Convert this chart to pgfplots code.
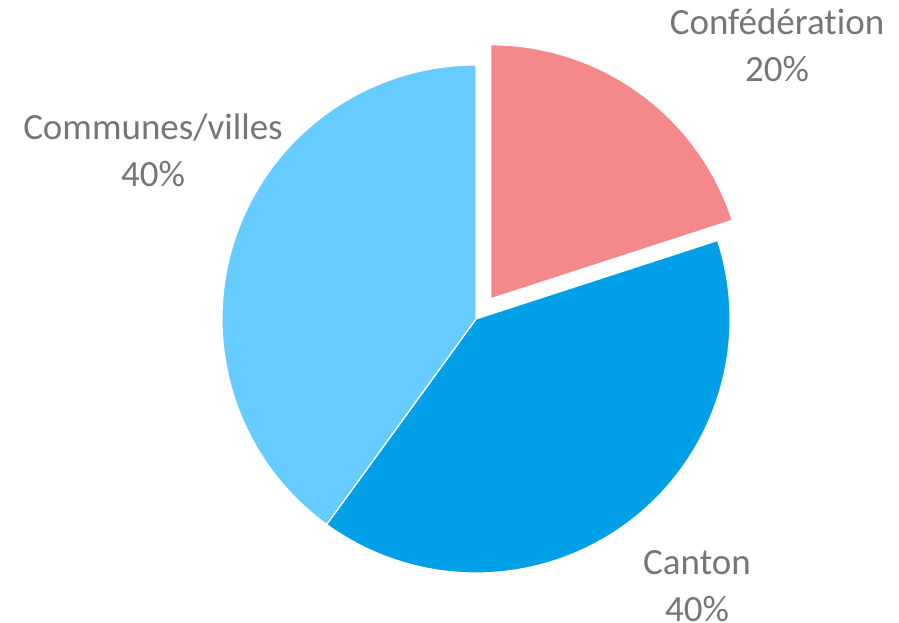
\documentclass[border=0pt]{standalone}
\usepackage{pgfplots}
\pgfplotsset{compat=1.18}
\usepackage{pgfplotstable}
\usepackage{fontspec}
\setmainfont{Carlito}[Ligatures=NoCommon]

\definecolor{conf}{HTML}{F5888A}
\definecolor{cant}{HTML}{00A0E9}
\definecolor{comm}{HTML}{66CCFF}
\definecolor{labelgray}{HTML}{767676}

% share in percent, slice colour, explode distance, label position (baseline of first line)
\pgfplotstableread[col sep=comma]{
label,value,color,explode,lx,ly
Confédération,20,conf,25,777,587
Canton,40,cant,0,697,48
Communes/villes,40,comm,0,153,482
}\piedata

\begin{document}
\begin{tikzpicture}[font=\fontsize{37}{44}\selectfont]
\useasboundingbox (0,0) rectangle (899pt,622pt);
\begin{axis}[
  scale only axis,
  width=899pt, height=622pt,
  xmin=0, xmax=899, ymin=0, ymax=622,
  hide axis, clip=false,
]
\pgfplotstablegetrowsof{\piedata}
\pgfmathtruncatemacro\lastrow{\pgfplotsretval-1}
\def\angstart{90}
\pgfplotsforeachungrouped \i in {0,...,\lastrow}{%
  \pgfplotstablegetelem{\i}{value}\of\piedata \let\val\pgfplotsretval
  \pgfplotstablegetelem{\i}{color}\of\piedata \let\col\pgfplotsretval
  \pgfplotstablegetelem{\i}{explode}\of\piedata \let\ex\pgfplotsretval
  \pgfplotstablegetelem{\i}{label}\of\piedata \let\lab\pgfplotsretval
  \pgfplotstablegetelem{\i}{lx}\of\piedata \let\lx\pgfplotsretval
  \pgfplotstablegetelem{\i}{ly}\of\piedata \let\ly\pgfplotsretval
  \pgfmathsetmacro\angend{\angstart-3.6*\val}
  \pgfmathsetmacro\angmid{(\angstart+\angend)/2}
  \pgfmathsetmacro\cx{476+\ex*cos(\angmid)}
  \pgfmathsetmacro\cy{303+\ex*sin(\angmid)}
  \pgfmathsetmacro\lyb{\ly-47}
  \edef\temp{%
    \noexpand\fill[\col, draw=white, line width=1.2pt, line join=round]
      (axis cs:\cx,\cy) -- ++(\angstart:254pt)
      arc[start angle=\angstart, end angle=\angend, radius=254pt] -- cycle;
    \noexpand\node[text=labelgray, anchor=base] at (axis cs:\lx,\ly) {\lab};
    \noexpand\node[text=labelgray, anchor=base] at (axis cs:\lx,\lyb) {\val\noexpand\%};
  }\temp
  \let\angstart\angend
}
\end{axis}
\end{tikzpicture}
\end{document}
